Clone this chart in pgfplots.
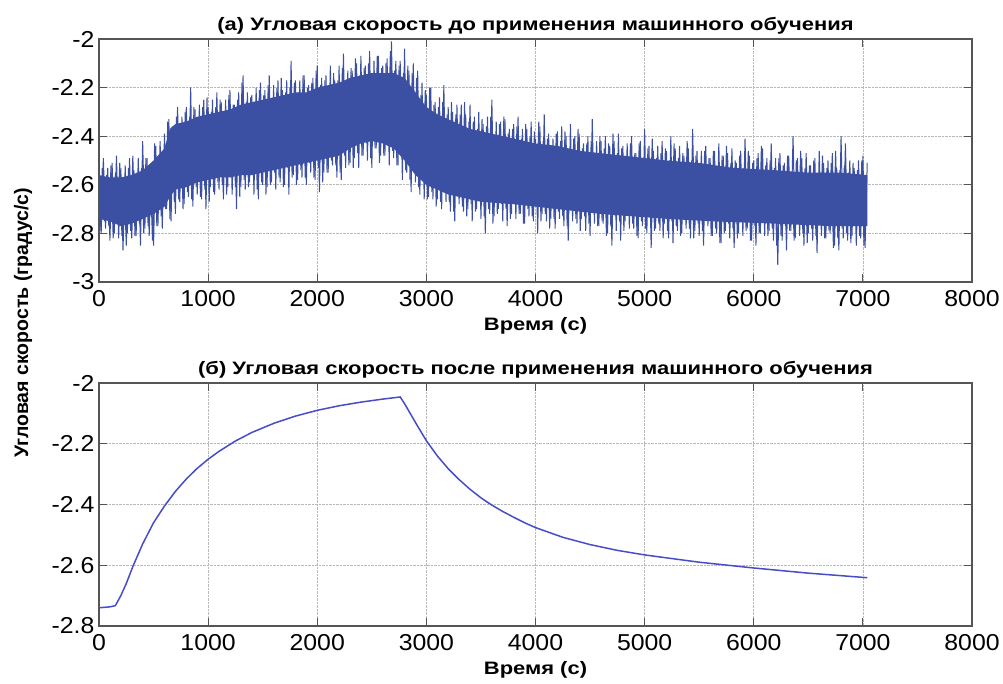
\documentclass[border=0pt]{standalone}
\usepackage{fontspec}
\setmainfont{Liberation Sans}[FakeStretch=1.08]
\newfontfamily\widefont{Liberation Sans}[FakeStretch=1.22]
\newfontfamily\plainfont{Liberation Sans}
\usepackage{pgfplots}
\pgfplotsset{compat=1.18}
\definecolor{noisy}{RGB}{60,80,163}
\definecolor{smoothblue}{RGB}{72,76,200}
\definecolor{frame}{RGB}{85,85,85}
\pgfplotsset{
  myaxis/.style={
    scale only axis, width=873pt, height=243pt,
    xmin=0, xmax=8000,
    xtick={0,1000,2000,3000,4000,5000,6000,7000,8000},
    scaled ticks=false,
    /pgf/number format/1000 sep={},
    /pgf/number format/assume math mode=true,
    tick align=inside, major tick length=8pt,
    tick style={frame, line width=1pt},
    axis line style={frame, line width=1.2pt},
    grid=major, grid style={densely dotted, gray!55, line width=0.6pt},
    ticklabel style={font=\fontsize{23}{26}\selectfont},
    xlabel={Время (с)},
    xlabel style={font=\widefont\bfseries\fontsize{18}{21}\selectfont, yshift=-4pt},
    title style={font=\widefont\bfseries\fontsize{18}{21}\selectfont, yshift=-5pt},
    xticklabel style={yshift=-4.5pt},
    yticklabel style={xshift=-1pt},
  }
}
\begin{document}
\begin{tikzpicture}
\path[use as bounding box] (0,0) rectangle (1003pt,684pt);
\begin{axis}[myaxis, at={(99pt,402pt)}, anchor=south west,
  ymin=-3, ymax=-2, ytick={-3,-2.8,-2.6,-2.4,-2.2,-2},
  title={(а) Угловая скорость до применения машинного обучения}]
\addplot[draw=none, fill=noisy] coordinates {
(0,-2.56)(100,-2.57)(200,-2.57)(300,-2.56)(400,-2.54)(500,-2.50)(600,-2.45)(650,-2.37)(700,-2.35)(800,-2.34)(900,-2.32)(1000,-2.31)(1100,-2.30)(1200,-2.29)(1300,-2.27)(1400,-2.26)(1500,-2.25)(1600,-2.24)(1700,-2.23)(1800,-2.22)(1900,-2.22)(2000,-2.20)(2100,-2.19)(2200,-2.18)(2300,-2.16)(2400,-2.15)(2500,-2.14)(2600,-2.14)(2700,-2.14)(2800,-2.16)(2900,-2.22)(3000,-2.28)(3100,-2.31)(3200,-2.33)(3300,-2.35)(3400,-2.37)(3500,-2.38)(3600,-2.39)(3700,-2.40)(3800,-2.41)(3900,-2.42)(4000,-2.43)(4200,-2.44)(4400,-2.46)(4600,-2.47)(4800,-2.48)(5000,-2.49)(5200,-2.50)(5500,-2.51)(5800,-2.53)(6200,-2.54)(6500,-2.55)(6800,-2.55)(7040,-2.56)
(7040,-2.77)(6700,-2.77)(6200,-2.76)(5600,-2.75)(5200,-2.74)(4900,-2.73)(4600,-2.72)(4400,-2.71)(4200,-2.70)(4000,-2.69)(3800,-2.68)(3500,-2.67)(3300,-2.65)(3200,-2.64)(3100,-2.62)(3000,-2.60)(2900,-2.56)(2800,-2.50)(2700,-2.45)(2600,-2.43)(2500,-2.42)(2400,-2.43)(2300,-2.45)(2200,-2.48)(2100,-2.49)(2000,-2.50)(1900,-2.51)(1800,-2.52)(1700,-2.53)(1600,-2.54)(1500,-2.55)(1400,-2.56)(1300,-2.56)(1200,-2.57)(1100,-2.57)(1000,-2.58)(900,-2.59)(800,-2.61)(700,-2.62)(650,-2.65)(600,-2.69)(500,-2.72)(400,-2.74)(300,-2.76)(200,-2.77)(100,-2.75)(0,-2.74)
};
\addplot[noisy, line width=1pt, line join=miter] coordinates {
(0,-2.51)(20,-2.80)(40,-2.49)(60,-2.78)(80,-2.53)
(100,-2.83)(120,-2.51)(140,-2.80)(160,-2.48)(180,-2.82)
(200,-2.53)(220,-2.87)(240,-2.52)(260,-2.80)(280,-2.49)
(300,-2.82)(320,-2.54)(340,-2.81)(360,-2.49)(380,-2.85)
(400,-2.42)(420,-2.78)(440,-2.49)(460,-2.81)(480,-2.51)
(500,-2.85)(520,-2.44)(540,-2.77)(560,-2.42)(580,-2.78)
(600,-2.39)(620,-2.70)(640,-2.33)(660,-2.75)(680,-2.38)
(700,-2.72)(720,-2.28)(740,-2.67)(760,-2.32)(780,-2.68)
(800,-2.28)(820,-2.65)(840,-2.20)(860,-2.69)(880,-2.29)
(900,-2.64)(920,-2.27)(940,-2.66)(960,-2.25)(980,-2.70)
(1000,-2.28)(1020,-2.61)(1040,-2.25)(1060,-2.64)(1080,-2.22)
(1100,-2.62)(1120,-2.26)(1140,-2.66)(1160,-2.25)(1180,-2.61)
(1200,-2.21)(1220,-2.64)(1240,-2.27)(1260,-2.70)(1280,-2.22)
(1300,-2.61)(1320,-2.15)(1340,-2.62)(1360,-2.22)(1380,-2.59)
(1400,-2.23)(1420,-2.64)(1440,-2.20)(1460,-2.66)(1480,-2.18)
(1500,-2.60)(1520,-2.21)(1540,-2.61)(1560,-2.15)(1580,-2.59)
(1600,-2.19)(1620,-2.62)(1640,-2.17)(1660,-2.59)(1680,-2.21)
(1700,-2.60)(1720,-2.17)(1740,-2.64)(1760,-2.09)(1780,-2.56)
(1800,-2.17)(1820,-2.58)(1840,-2.17)(1860,-2.57)(1880,-2.15)
(1900,-2.60)(1920,-2.19)(1940,-2.55)(1960,-2.16)(1980,-2.58)
(2000,-2.11)(2020,-2.63)(2040,-2.16)(2060,-2.55)(2080,-2.15)
(2100,-2.55)(2120,-2.11)(2140,-2.52)(2160,-2.17)(2180,-2.57)
(2200,-2.11)(2220,-2.58)(2240,-2.06)(2260,-2.53)(2280,-2.13)
(2300,-2.51)(2320,-2.13)(2340,-2.49)(2360,-2.10)(2380,-2.53)
(2400,-2.07)(2420,-2.48)(2440,-2.11)(2460,-2.50)(2480,-2.05)
(2500,-2.53)(2520,-2.09)(2540,-2.45)(2560,-2.07)(2580,-2.48)
(2600,-2.11)(2620,-2.48)(2640,-2.08)(2660,-2.52)(2680,-2.01)
(2700,-2.49)(2720,-2.09)(2740,-2.52)(2760,-2.09)(2780,-2.58)
(2800,-2.04)(2820,-2.55)(2840,-2.13)(2860,-2.63)(2880,-2.10)
(2900,-2.59)(2920,-2.13)(2940,-2.64)(2960,-2.18)(2980,-2.66)
(3000,-2.23)(3020,-2.65)(3040,-2.20)(3060,-2.66)(3080,-2.26)
(3100,-2.66)(3120,-2.24)(3140,-2.70)(3160,-2.19)(3180,-2.67)
(3200,-2.28)(3220,-2.71)(3240,-2.30)(3260,-2.75)(3280,-2.27)
(3300,-2.68)(3320,-2.27)(3340,-2.71)(3360,-2.31)(3380,-2.70)
(3400,-2.27)(3420,-2.75)(3440,-2.32)(3460,-2.70)(3480,-2.30)
(3500,-2.74)(3520,-2.35)(3540,-2.80)(3560,-2.32)(3580,-2.72)
(3600,-2.25)(3620,-2.73)(3640,-2.34)(3660,-2.70)(3680,-2.34)
(3700,-2.75)(3720,-2.33)(3740,-2.77)(3760,-2.37)(3780,-2.72)
(3800,-2.35)(3820,-2.74)(3840,-2.32)(3860,-2.72)(3880,-2.37)
(3900,-2.76)(3920,-2.37)(3940,-2.73)(3960,-2.34)(3980,-2.75)
(4000,-2.41)(4020,-2.80)(4040,-2.36)(4060,-2.72)(4080,-2.31)
(4100,-2.75)(4120,-2.39)(4140,-2.74)(4160,-2.41)(4180,-2.78)
(4200,-2.38)(4220,-2.74)(4240,-2.36)(4260,-2.77)(4280,-2.40)
(4300,-2.83)(4320,-2.35)(4340,-2.75)(4360,-2.40)(4380,-2.76)
(4400,-2.39)(4420,-2.74)(4440,-2.43)(4460,-2.79)(4480,-2.40)
(4500,-2.81)(4520,-2.33)(4540,-2.76)(4560,-2.42)(4580,-2.77)
(4600,-2.42)(4620,-2.76)(4640,-2.40)(4660,-2.80)(4680,-2.44)
(4700,-2.85)(4720,-2.42)(4740,-2.79)(4760,-2.39)(4780,-2.83)
(4800,-2.44)(4820,-2.75)(4840,-2.43)(4860,-2.78)(4880,-2.40)
(4900,-2.78)(4920,-2.47)(4940,-2.82)(4960,-2.42)(4980,-2.77)
(5000,-2.37)(5020,-2.80)(5040,-2.44)(5060,-2.86)(5080,-2.46)
(5100,-2.78)(5120,-2.44)(5140,-2.79)(5160,-2.42)(5180,-2.76)
(5200,-2.46)(5220,-2.82)(5240,-2.40)(5260,-2.84)(5280,-2.45)
(5300,-2.79)(5320,-2.44)(5340,-2.80)(5360,-2.48)(5380,-2.78)
(5400,-2.45)(5420,-2.82)(5440,-2.37)(5460,-2.79)(5480,-2.46)
(5500,-2.81)(5520,-2.46)(5540,-2.85)(5560,-2.44)(5580,-2.77)
(5600,-2.49)(5620,-2.81)(5640,-2.46)(5660,-2.80)(5680,-2.43)
(5700,-2.84)(5720,-2.48)(5740,-2.79)(5760,-2.47)(5780,-2.82)
(5800,-2.45)(5820,-2.86)(5840,-2.51)(5860,-2.80)(5880,-2.46)
(5900,-2.81)(5920,-2.41)(5940,-2.78)(5960,-2.48)(5980,-2.83)
(6000,-2.50)(6020,-2.85)(6040,-2.47)(6060,-2.80)(6080,-2.45)
(6100,-2.81)(6120,-2.49)(6140,-2.79)(6160,-2.43)(6180,-2.83)
(6200,-2.49)(6220,-2.93)(6240,-2.47)(6260,-2.83)(6280,-2.51)
(6300,-2.87)(6320,-2.48)(6340,-2.79)(6360,-2.40)(6380,-2.82)
(6400,-2.49)(6420,-2.81)(6440,-2.49)(6460,-2.85)(6480,-2.47)
(6500,-2.80)(6520,-2.52)(6540,-2.83)(6560,-2.49)(6580,-2.88)
(6600,-2.46)(6620,-2.81)(6640,-2.51)(6660,-2.82)(6680,-2.50)
(6700,-2.80)(6720,-2.47)(6740,-2.85)(6760,-2.53)(6780,-2.87)
(6800,-2.40)(6820,-2.82)(6840,-2.43)(6860,-2.83)(6880,-2.50)
(6900,-2.81)(6920,-2.53)(6940,-2.85)(6960,-2.50)(6980,-2.82)
(7000,-2.48)(7020,-2.86)(7040,-2.51)
};
\addplot[noisy, line width=1pt, line join=miter] coordinates {
(10,-2.79)(30,-2.53)(50,-2.75)(70,-2.56)(90,-2.77)
(110,-2.52)(130,-2.82)(150,-2.55)(170,-2.75)(190,-2.51)
(210,-2.81)(230,-2.58)(250,-2.85)(270,-2.53)(290,-2.79)
(310,-2.48)(330,-2.81)(350,-2.55)(370,-2.76)(390,-2.53)
(410,-2.80)(430,-2.49)(450,-2.77)(470,-2.54)(490,-2.83)
(510,-2.43)(530,-2.77)(550,-2.48)(570,-2.73)(590,-2.46)
(610,-2.70)(630,-2.34)(650,-2.74)(670,-2.36)(690,-2.67)
(710,-2.32)(730,-2.66)(750,-2.35)(770,-2.70)(790,-2.30)
(810,-2.63)(830,-2.32)(850,-2.66)(870,-2.28)(890,-2.61)
(910,-2.33)(930,-2.65)(950,-2.28)(970,-2.62)(990,-2.24)
(1010,-2.67)(1030,-2.30)(1050,-2.63)(1070,-2.28)(1090,-2.59)
(1110,-2.25)(1130,-2.60)(1150,-2.30)(1170,-2.64)(1190,-2.23)
(1210,-2.57)(1230,-2.27)(1250,-2.61)(1270,-2.25)(1290,-2.65)
(1310,-2.18)(1330,-2.58)(1350,-2.26)(1370,-2.61)(1390,-2.24)
(1410,-2.56)(1430,-2.26)(1450,-2.62)(1470,-2.21)(1490,-2.59)
(1510,-2.23)(1530,-2.64)(1550,-2.19)(1570,-2.60)(1590,-2.26)
(1610,-2.55)(1630,-2.20)(1650,-2.57)(1670,-2.16)(1690,-2.61)
(1710,-2.22)(1730,-2.53)(1750,-2.20)(1770,-2.57)(1790,-2.18)
(1810,-2.60)(1830,-2.22)(1850,-2.54)(1870,-2.15)(1890,-2.57)
(1910,-2.20)(1930,-2.51)(1950,-2.18)(1970,-2.57)(1990,-2.13)
(2010,-2.53)(2030,-2.19)(2050,-2.59)(2070,-2.17)(2090,-2.55)
(2110,-2.19)(2130,-2.50)(2150,-2.14)(2170,-2.52)(2190,-2.17)
(2210,-2.55)(2230,-2.12)(2250,-2.48)(2270,-2.19)(2290,-2.52)
(2310,-2.12)(2330,-2.53)(2350,-2.08)(2370,-2.47)(2390,-2.15)
(2410,-2.48)(2430,-2.12)(2450,-2.43)(2470,-2.10)(2490,-2.49)
(2510,-2.14)(2530,-2.45)(2550,-2.07)(2570,-2.51)(2590,-2.12)
(2610,-2.48)(2630,-2.10)(2650,-2.44)(2670,-2.05)(2690,-2.46)
(2710,-2.13)(2730,-2.52)(2750,-2.11)(2770,-2.45)(2790,-2.14)
(2810,-2.54)(2830,-2.11)(2850,-2.58)(2870,-2.14)(2890,-2.55)
(2910,-2.16)(2930,-2.61)(2950,-2.23)(2970,-2.56)(2990,-2.21)
(3010,-2.66)(3030,-2.20)(3050,-2.63)(3070,-2.27)(3090,-2.69)
(3110,-2.28)(3130,-2.67)(3150,-2.26)(3170,-2.63)(3190,-2.31)
(3210,-2.67)(3230,-2.26)(3250,-2.71)(3270,-2.31)(3290,-2.64)
(3310,-2.31)(3330,-2.69)(3350,-2.26)(3370,-2.73)(3390,-2.34)
(3410,-2.68)(3430,-2.34)(3450,-2.71)(3470,-2.37)(3490,-2.66)
(3510,-2.33)(3530,-2.73)(3550,-2.36)(3570,-2.70)(3590,-2.32)
(3610,-2.76)(3630,-2.40)(3650,-2.72)(3670,-2.35)(3690,-2.68)
(3710,-2.32)(3730,-2.70)(3750,-2.39)(3770,-2.74)(3790,-2.37)
(3810,-2.68)(3830,-2.36)(3850,-2.72)(3870,-2.41)(3890,-2.76)
(3910,-2.35)(3930,-2.70)(3950,-2.40)(3970,-2.73)(3990,-2.38)
(4010,-2.69)(4030,-2.34)(4050,-2.75)(4070,-2.42)(4090,-2.72)
(4110,-2.41)(4130,-2.78)(4150,-2.44)(4170,-2.74)(4190,-2.39)
(4210,-2.71)(4230,-2.42)(4250,-2.73)(4270,-2.38)(4290,-2.77)
(4310,-2.46)(4330,-2.70)(4350,-2.41)(4370,-2.74)(4390,-2.37)
(4410,-2.79)(4430,-2.45)(4450,-2.73)(4470,-2.43)(4490,-2.76)
(4510,-2.42)(4530,-2.71)(4550,-2.47)(4570,-2.77)(4590,-2.40)
(4610,-2.75)(4630,-2.45)(4650,-2.81)(4670,-2.43)(4690,-2.77)
(4710,-2.39)(4730,-2.73)(4750,-2.47)(4770,-2.75)(4790,-2.45)
(4810,-2.79)(4830,-2.48)(4850,-2.72)(4870,-2.43)(4890,-2.76)
(4910,-2.47)(4930,-2.81)(4950,-2.43)(4970,-2.75)(4990,-2.50)
(5010,-2.78)(5030,-2.45)(5050,-2.73)(5070,-2.41)(5090,-2.79)
(5110,-2.49)(5130,-2.76)(5150,-2.47)(5170,-2.82)(5190,-2.45)
(5210,-2.79)(5230,-2.50)(5250,-2.75)(5270,-2.43)(5290,-2.77)
(5310,-2.49)(5330,-2.81)(5350,-2.47)(5370,-2.74)(5390,-2.42)
(5410,-2.78)(5430,-2.50)(5450,-2.82)(5470,-2.48)(5490,-2.76)
(5510,-2.51)(5530,-2.79)(5550,-2.46)(5570,-2.74)(5590,-2.49)
(5610,-2.81)(5630,-2.46)(5650,-2.78)(5670,-2.53)(5690,-2.84)
(5710,-2.48)(5730,-2.80)(5750,-2.44)(5770,-2.76)(5790,-2.51)
(5810,-2.78)(5830,-2.50)(5850,-2.82)(5870,-2.48)(5890,-2.75)
(5910,-2.53)(5930,-2.79)(5950,-2.46)(5970,-2.83)(5990,-2.51)
(6010,-2.77)(6030,-2.49)(6050,-2.80)(6070,-2.44)(6090,-2.75)
(6110,-2.52)(6130,-2.81)(6150,-2.50)(6170,-2.78)(6190,-2.53)
(6210,-2.85)(6230,-2.49)(6250,-2.81)(6270,-2.52)(6290,-2.77)
(6310,-2.48)(6330,-2.79)(6350,-2.55)(6370,-2.83)(6390,-2.50)
(6410,-2.76)(6430,-2.46)(6450,-2.80)(6470,-2.53)(6490,-2.84)
(6510,-2.52)(6530,-2.78)(6550,-2.50)(6570,-2.81)(6590,-2.55)
(6610,-2.76)(6630,-2.48)(6650,-2.82)(6670,-2.53)(6690,-2.79)
(6710,-2.51)(6730,-2.86)(6750,-2.46)(6770,-2.82)(6790,-2.54)
(6810,-2.78)(6830,-2.52)(6850,-2.80)(6870,-2.55)(6890,-2.84)
(6910,-2.51)(6930,-2.77)(6950,-2.54)(6970,-2.81)(6990,-2.50)
(7010,-2.85)(7030,-2.57)
};
\end{axis}
\begin{axis}[myaxis, at={(99pt,58pt)}, anchor=south west,
  ymin=-2.8, ymax=-2, ytick={-2.8,-2.6,-2.4,-2.2,-2},
  title={(б) Угловая скорость после применения машинного обучения}]
\addplot[smoothblue, line width=1.5pt] coordinates {
(0,-2.740)(100,-2.737)(150,-2.733)(200,-2.700)(250,-2.660)(315,-2.600)(400,-2.530)(500,-2.460)(600,-2.405)(700,-2.357)(800,-2.316)(900,-2.281)(1000,-2.251)(1100,-2.225)(1250,-2.191)(1400,-2.163)(1600,-2.133)(1800,-2.109)(2000,-2.090)(2200,-2.075)(2400,-2.063)(2600,-2.053)(2760,-2.046)
(2800,-2.068)(2900,-2.130)(3000,-2.190)(3100,-2.240)(3200,-2.282)(3300,-2.318)(3400,-2.350)(3500,-2.378)(3600,-2.402)(3700,-2.423)(3800,-2.442)(3900,-2.460)(4000,-2.476)(4250,-2.508)(4500,-2.532)(4750,-2.551)(5000,-2.566)(5500,-2.590)(6000,-2.609)(6500,-2.626)(7040,-2.641)
};
\end{axis}
\node[rotate=90, font=\plainfont\bfseries\fontsize{19.5}{22}\selectfont] at (23pt,361pt) {Угловая скорость (градус/с)};
\end{tikzpicture}
\end{document}
